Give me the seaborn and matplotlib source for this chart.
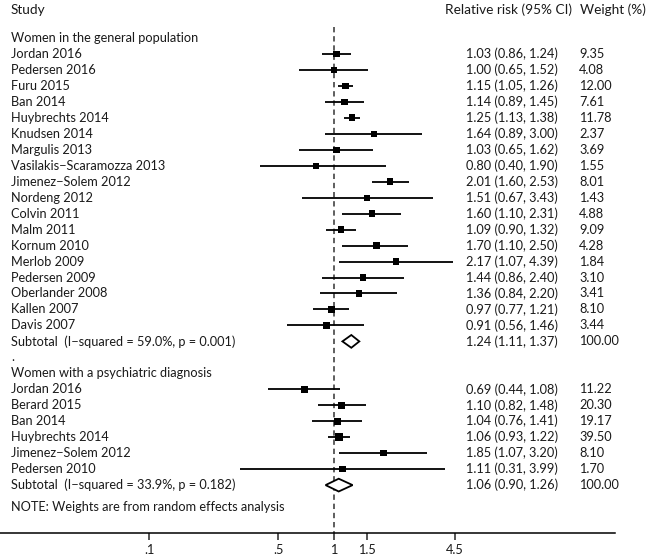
import matplotlib.pyplot as plt
import seaborn as sns
import pandas as pd

# Women in the general population
gen_study = ['Jordan 2016', 'Pedersen 2016', 'Furu 2015', 'Ban 2014', 'Huybrechts 2014',
             'Knudsen 2014', 'Margulis 2013', 'Vasilakis\u2212Scaramozza 2013', 'Jimenez\u2212Solem 2012',
             'Nordeng 2012', 'Colvin 2011', 'Malm 2011', 'Kornum 2010', 'Merlob 2009',
             'Pedersen 2009', 'Oberlander 2008', 'Kallen 2007', 'Davis 2007']
gen_rr = [1.03, 1.00, 1.15, 1.14, 1.25, 1.64, 1.03, 0.80, 2.01, 1.51, 1.60, 1.09, 1.70, 2.17, 1.44, 1.36, 0.97, 0.91]
gen_lo = [0.86, 0.65, 1.05, 0.89, 1.13, 0.89, 0.65, 0.40, 1.60, 0.67, 1.10, 0.90, 1.10, 1.07, 0.86, 0.84, 0.77, 0.56]
gen_hi = [1.24, 1.52, 1.26, 1.45, 1.38, 3.00, 1.62, 1.90, 2.53, 3.43, 2.31, 1.32, 2.50, 4.39, 2.40, 2.20, 1.21, 1.46]
gen_w = [9.35, 4.08, 12.00, 7.61, 11.78, 2.37, 3.69, 1.55, 8.01, 1.43, 4.88, 9.09, 4.28, 1.84, 3.10, 3.41, 8.10, 3.44]
gen_sub = (1.24, 1.11, 1.37)

# Women with a psychiatric diagnosis
psy_study = ['Jordan 2016', 'Berard 2015', 'Ban 2014', 'Huybrechts 2014', 'Jimenez\u2212Solem 2012', 'Pedersen 2010']
psy_rr = [0.69, 1.10, 1.04, 1.06, 1.85, 1.11]
psy_lo = [0.44, 0.82, 0.76, 0.93, 1.07, 0.31]
psy_hi = [1.08, 1.48, 1.41, 1.22, 3.20, 3.99]
psy_w = [11.22, 20.30, 19.17, 39.50, 8.10, 1.70]
psy_sub = (1.06, 0.90, 1.26)

gen_stat = 'Subtotal  (I\u2212squared = 59.0%, p = 0.001)'
psy_stat = 'Subtotal  (I\u2212squared = 33.9%, p = 0.182)'

tick_vals = [0.1, 0.5, 1, 1.5, 4.5]
tick_labels = ['.1', '.5', '1', '1.5', '4.5']

# build rows
rows = []
rows.append(dict(label='Women in the general population', kind='head'))
for s, r, l, h, w in zip(gen_study, gen_rr, gen_lo, gen_hi, gen_w):
    rows.append(dict(label=s, kind='study', rr=r, lo=l, hi=h, w=w))
rows.append(dict(label=gen_stat, kind='sub', rr=gen_sub[0], lo=gen_sub[1], hi=gen_sub[2], w=100.0))
rows.append(dict(label='.', kind='head'))
rows.append(dict(label='Women with a psychiatric diagnosis', kind='head'))
for s, r, l, h, w in zip(psy_study, psy_rr, psy_lo, psy_hi, psy_w):
    rows.append(dict(label=s, kind='study', rr=r, lo=l, hi=h, w=w))
rows.append(dict(label=psy_stat, kind='sub', rr=psy_sub[0], lo=psy_sub[1], hi=psy_sub[2], w=100.0))
df = pd.DataFrame(rows)
df['row'] = range(len(df))

sns.set_style("white")
plt.rcParams['font.family'] = ['Lato', 'DejaVu Sans']
fs = 9.2
txt_col = '#1a1a1a'

fig = plt.figure(figsize=(6.48, 5.57), dpi=100)
ax = fig.add_axes([0, 24 / 557, 615 / 648, 533 / 557])
ax.set_xscale('log')
ax.set_xlim(0.01566, 33.0)
ax.set_ylim(31.0, -2.38)

# reference line at 1
ax.plot([1, 1], [-0.69, 31.0], color='#333333', lw=1.1, ls=(0, (3.5, 2.5)), zorder=1)

studies = df[df.kind == 'study']
ax.hlines(studies['row'], studies['lo'], studies['hi'], color='black', lw=1.3, zorder=2)
sns.scatterplot(data=studies, x='rr', y='row', size='w', sizes=(20, 32), marker='s',
                color='black', edgecolor='black', linewidth=0, legend=False, ax=ax, zorder=3)

# subtotal diamonds
for _, r in df[df.kind == 'sub'].iterrows():
    y = r['row']
    ax.fill([r['lo'], r['rr'], r['hi'], r['rr']], [y, y - 0.4, y, y + 0.4],
            facecolor='white', edgecolor='black', lw=1.3, zorder=3)

# text columns
tr = ax.get_yaxis_transform()
x_lab, x_ci, x_w = 11 / 615, 466 / 615, 579 / 615
for _, r in df.iterrows():
    ax.text(x_lab, r['row'], r['label'], transform=tr, va='center', ha='left', fontsize=fs, color=txt_col)
    if r['kind'] != 'head':
        ax.text(x_ci, r['row'], f"{r['rr']:.2f} ({r['lo']:.2f}, {r['hi']:.2f})",
                transform=tr, va='center', ha='left', fontsize=fs, color=txt_col)
        ax.text(x_w, r['row'], f"{r['w']:.2f}", transform=tr, va='center', ha='left',
                fontsize=fs, color=txt_col)

ax.text(x_lab, 29.4, 'NOTE: Weights are from random effects analysis', transform=tr,
        va='center', ha='left', fontsize=fs, color=txt_col)
ax.text(x_lab, -1.75, 'Study', transform=tr, va='center', ha='left', fontsize=fs + 0.6, color=txt_col)
ax.text(445 / 615, -1.75, 'Relative risk (95% CI)', transform=tr, va='center', ha='left',
        fontsize=fs + 0.6, color=txt_col)
ax.text(580 / 615, -1.75, 'Weight (%)', transform=tr, va='center', ha='left',
        fontsize=fs + 0.6, color=txt_col, clip_on=False)

# axis styling
for side in ['top', 'left', 'right']:
    ax.spines[side].set_visible(False)
ax.spines['bottom'].set_color('black')
ax.spines['bottom'].set_linewidth(1.1)
ax.set_yticks([])
ax.set_xticks(tick_vals)
ax.set_xticklabels(tick_labels)
ax.minorticks_off()
ax.tick_params(axis='x', direction='out', length=5, width=1.1, labelsize=fs, pad=3,
               bottom=True, labelcolor=txt_col)
ax.set_xlabel('')
ax.set_ylabel('')

fig.savefig('out.png', dpi=100)
